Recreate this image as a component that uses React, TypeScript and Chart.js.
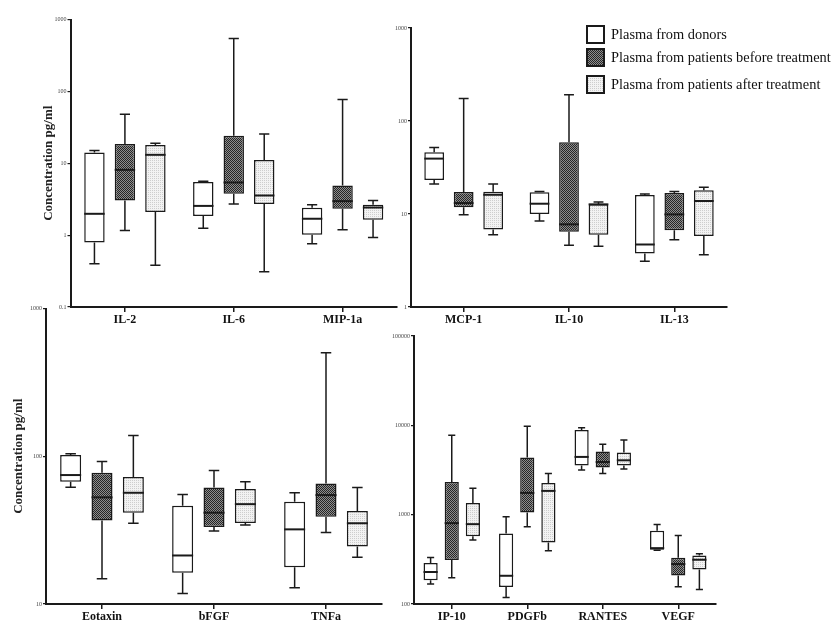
import React, { useEffect, useRef } from "react";
import { Chart, registerables } from "chart.js";
Chart.register(...registerables);

const groupNames = [
  "Plasma from donors",
  "Plasma from patients before treatment",
  "Plasma from patients after treatment",
];

// each entry: [min, q1, median, q3, max]
const cytokinesA = ["IL-2", "IL-6", "MIP-1a"];
const donorsA = [[0.40, 0.79, 1.98, 14.1, 15.0], [1.25, 1.84, 2.55, 5.5, 5.6], [0.76, 1.01, 1.69, 2.40, 2.64]];
const beforeA = [[1.16, 3.03, 8.1, 18.6, 48], [2.72, 3.75, 5.4, 24.2, 545], [1.19, 2.32, 2.97, 4.9, 77]];
const afterA = [[0.38, 2.09, 13.1, 18, 19], [0.31, 2.72, 3.56, 11.1, 25.5], [0.93, 1.63, 2.42, 2.64, 3.03]];
const ticksA = [0.1, 1, 10, 100, 1000];

const cytokinesB = ["MCP-1", "IL-10", "IL-13"];
const donorsB = [[21, 23.2, 39.4, 46, 52], [8.4, 10, 12.9, 17.1, 17.5], [3.1, 3.77, 4.7, 16, 16.4]];
const beforeB = [[9.8, 11.8, 13.1, 17.2, 175], [4.6, 6.45, 7.74, 59, 192], [5.3, 6.7, 9.9, 16.8, 17.5]];
const afterB = [[6.0, 6.8, 16.1, 17.4, 21], [4.5, 6.0, 12.7, 12.7, 13.5], [3.65, 5.8, 13.8, 18, 19.4]];
const ticksB = [1, 10, 100, 1000];

const cytokinesC = ["Eotaxin", "bFGF", "TNFa"];
const donorsC = [[61.8, 67.3, 74.6, 102, 104], [11.8, 16.3, 21.3, 46.3, 55.2], [12.9, 17.7, 32, 49.2, 56.6]];
const beforeC = [[14.8, 36.8, 52.7, 77.3, 92], [31.2, 33.2, 41.5, 61.5, 80.2], [30.5, 39, 54.6, 65.5, 501]];
const afterC = [[35.2, 41.5, 56.6, 72.3, 138], [34.2, 35.3, 47.4, 60, 67.3], [20.7, 24.5, 35.2, 42.6, 61.5]];
const ticksC = [10, 100, 1000];

const cytokinesD = ["IP-10", "PDGFb", "RANTES", "VEGF"];
const donorsD = [[167, 184, 228, 287, 332], [118, 155, 207, 617, 946], [3170, 3540, 4430, 8870, 9420], [400, 405, 422, 659, 776]];
const beforeD = [[197, 310, 804, 2326, 7730], [731, 1057, 1754, 4355, 9750], [2884, 3365, 3890, 5080, 6140], [156, 209, 280, 330, 585]];
const afterD = [[519, 575, 783, 1355, 1977], [394, 489, 1846, 2269, 2884], [3250, 3540, 4060, 4950, 6860], [145, 244, 313, 350, 365]];
const ticksD = [100, 1000, 10000, 100000];

const yTitle = "Concentration pg/ml";
const INK = "#1a1a1a";
const SERIF = "'Liberation Serif', 'DejaVu Serif', serif";

function makeFills(): (string | CanvasPattern)[] {
  const mk = (base: string, dot: string, test: (x: number, y: number) => boolean) => {
    const c = document.createElement("canvas");
    c.width = 4;
    c.height = 4;
    const g = c.getContext("2d")!;
    g.fillStyle = base;
    g.fillRect(0, 0, 4, 4);
    g.fillStyle = dot;
    for (let x = 0; x < 4; x++) for (let y = 0; y < 4; y++) if (test(x, y)) g.fillRect(x, y, 1, 1);
    return g.createPattern(c, "repeat")!;
  };
  const dark = mk("#8e8e8e", "#262626", (x, y) => (x + y) % 2 === 0);
  const light = mk("#f2f2f2", "#cdcdcd", (x, y) => x % 2 === 0 && y % 2 === 0);
  return ["#ffffff", dark, light];
}

const whiskerPlugin = {
  id: "whiskers",
  afterDatasetsDraw(chart: any) {
    const ctx = chart.ctx;
    const y = chart.scales.y;
    chart.data.datasets.forEach((ds: any, i: number) => {
      const meta = chart.getDatasetMeta(i);
      meta.data.forEach((el: any, j: number) => {
        const s = ds.stats[j];
        const { x, width } = el.getProps(["x", "width"], true);
        const p = s.map((v: number) => y.getPixelForValue(v));
        ctx.save();
        ctx.strokeStyle = INK;
        ctx.lineWidth = 1.5;
        ctx.beginPath();
        ctx.moveTo(x, p[3]);
        ctx.lineTo(x, p[4]);
        ctx.moveTo(x - width / 4, p[4]);
        ctx.lineTo(x + width / 4, p[4]);
        ctx.moveTo(x, p[1]);
        ctx.lineTo(x, p[0]);
        ctx.moveTo(x - width / 4, p[0]);
        ctx.lineTo(x + width / 4, p[0]);
        ctx.stroke();
        ctx.lineWidth = 2;
        ctx.beginPath();
        ctx.moveTo(x - width / 2, p[2]);
        ctx.lineTo(x + width / 2, p[2]);
        ctx.stroke();
        ctx.restore();
      });
    });
  },
};

function makeLegendPlugin(offX: number, offY: number, fills: (string | CanvasPattern)[]) {
  const rows = [26, 49, 76];
  return {
    id: "customLegend",
    afterDraw(chart: any) {
      const ctx = chart.ctx;
      ctx.save();
      rows.forEach((ry, i) => {
        const bx = 587 - offX;
        const by = ry - offY;
        ctx.fillStyle = fills[i];
        ctx.fillRect(bx, by, 17, 17);
        ctx.strokeStyle = INK;
        ctx.lineWidth = 2;
        ctx.strokeRect(bx, by, 17, 17);
        ctx.fillStyle = "#111";
        ctx.font = `14.4px ${SERIF}`;
        ctx.textBaseline = "middle";
        ctx.textAlign = "left";
        ctx.fillText(groupNames[i], 611 - offX, by + 9);
      });
      ctx.restore();
    },
  };
}

type PanelProps = {
  left: number;
  top: number;
  width: number;
  height: number;
  pad: { left: number; top: number; right: number; bottom: number };
  yWidth: number;
  xHeight: number;
  cats: string[];
  groups: number[][][];
  ticks: number[];
  title?: string;
  legend?: boolean;
};

function BoxPanel(props: PanelProps) {
  const ref = useRef<HTMLCanvasElement>(null);
  useEffect(() => {
    const fills = makeFills();
    const { pad, yWidth, xHeight, cats, groups, ticks, title, legend, left, top } = props;
    const datasets = groups.map((g, i) => ({
      label: groupNames[i],
      data: g.map((s) => [s[1], s[3]]),
      stats: g,
      backgroundColor: fills[i],
      borderColor: INK,
      borderWidth: 1.5,
      borderSkipped: false,
      categoryPercentage: 0.84,
      barPercentage: 0.67,
    }));
    const plugins: any[] = [whiskerPlugin];
    if (legend) plugins.push(makeLegendPlugin(left, top, fills));
    const chart = new Chart(ref.current!, {
      type: "bar",
      data: { labels: cats, datasets: datasets as any },
      plugins,
      options: {
        animation: false,
        responsive: false,
        maintainAspectRatio: false,
        layout: { padding: pad },
        plugins: { legend: { display: false }, tooltip: { enabled: false } },
        scales: {
          x: {
            type: "category",
            offset: true,
            grid: { display: true, drawOnChartArea: false, offset: false, tickLength: 5, color: INK, lineWidth: 1.5 },
            border: { display: true, color: INK, width: 2 },
            ticks: {
              color: "#111",
              font: { family: SERIF, size: 12, weight: "bold" },
              padding: 1,
              maxRotation: 0,
              autoSkip: false,
            },
            afterFit: (s: any) => {
              s.height = xHeight;
            },
          },
          y: {
            type: "logarithmic",
            min: ticks[0],
            max: ticks[ticks.length - 1],
            afterBuildTicks: (s: any) => {
              s.ticks = ticks.map((v) => ({ value: v, major: true }));
            },
            grid: { display: true, drawOnChartArea: false, tickLength: 3, color: INK, lineWidth: 1.2 },
            border: { display: true, color: INK, width: 2 },
            ticks: {
              color: "#444",
              font: { family: SERIF, size: 6 },
              padding: 1,
              autoSkip: false,
              callback: (v: any) => String(v),
            },
            title: {
              display: !!title,
              text: title || "",
              color: "#222",
              font: { family: SERIF, size: 13, weight: "bold" },
              padding: { top: 11, bottom: 0 },
            },
            afterFit: (s: any) => {
              s.width = yWidth;
            },
          },
        },
      } as any,
    });
    return () => chart.destroy();
  }, []);
  return (
    <canvas
      ref={ref}
      width={props.width}
      height={props.height}
      style={{ position: "absolute", left: props.left, top: props.top, width: props.width, height: props.height }}
    />
  );
}

export default function App() {
  return (
    <div style={{ position: "absolute", left: 0, top: 0, width: 837, height: 637, background: "#fff", overflow: "hidden" }}>
      <BoxPanel
        left={0}
        top={0}
        width={410}
        height={340}
        pad={{ left: 30, top: 19.5, right: 13, bottom: 0 }}
        yWidth={40.5}
        xHeight={33}
        cats={cytokinesA}
        groups={[donorsA, beforeA, afterA]}
        ticks={ticksA}
        title={yTitle}
      />
      <BoxPanel
        left={380}
        top={0}
        width={457}
        height={340}
        pad={{ left: 0, top: 28, right: 110, bottom: 0 }}
        yWidth={31}
        xHeight={33}
        cats={cytokinesB}
        groups={[donorsB, beforeB, afterB]}
        ticks={ticksB}
        legend
      />
      <BoxPanel
        left={0}
        top={300}
        width={400}
        height={337}
        pad={{ left: 0, top: 8.5, right: 18, bottom: 0 }}
        yWidth={46}
        xHeight={33}
        cats={cytokinesC}
        groups={[donorsC, beforeC, afterC]}
        ticks={ticksC}
        title={yTitle}
      />
      <BoxPanel
        left={384}
        top={320}
        width={453}
        height={317}
        pad={{ left: 0, top: 16, right: 121, bottom: 0 }}
        yWidth={30}
        xHeight={33}
        cats={cytokinesD}
        groups={[donorsD, beforeD, afterD]}
        ticks={ticksD}
      />
    </div>
  );
}
